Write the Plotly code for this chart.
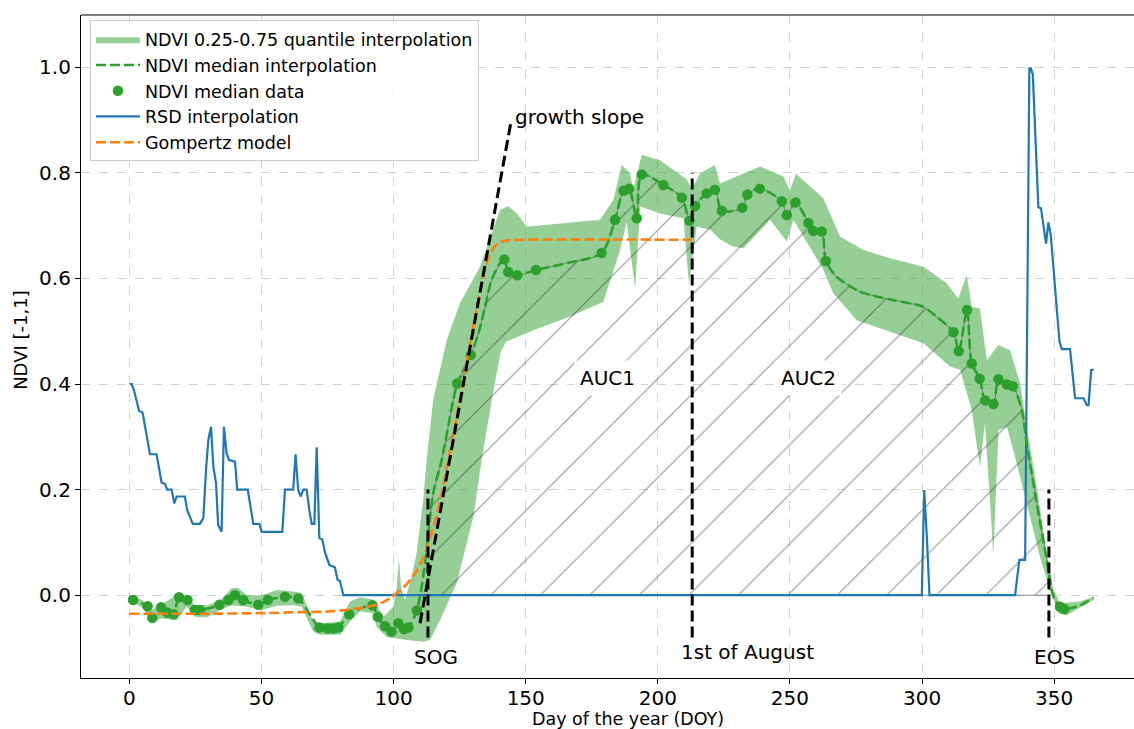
import numpy as np
import plotly.graph_objects as go

# ---------------- data ----------------
# NDVI median data (dots)
med_day = [1.4, 6.9, 8.7, 12.0, 14.4, 16.7, 18.8, 22.0, 24.8, 26.7, 34.1, 37.5, 40.0, 43.1, 48.8,
           52.4, 58.9, 63.9, 71.9, 75.0, 77.2, 79.1, 83.2, 92.0, 94.0, 96.8, 99.2, 101.8, 103.9,
           105.6, 108.8, 124.1, 129.2, 141.9, 143.4, 146.8, 153.9, 178.7, 183.8, 187.0, 189.1,
           192.0, 193.9, 202.1, 209.1, 212.0, 214.1, 218.5, 221.6, 224.2, 232.0, 233.9, 238.6,
           246.9, 248.8, 252.1, 257.0, 258.8, 262.0, 263.6, 311.9, 313.9, 317.0, 318.8, 321.8,
           323.9, 327.0, 328.9, 332.1, 334.3, 352.2, 353.8]
med_val = [-0.009, -0.021, -0.043, -0.023, -0.033, -0.036, -0.004, -0.009, -0.028, -0.028, -0.018,
           -0.009, 0.0, -0.009, -0.018, -0.009, -0.003, -0.006, -0.061, -0.063, -0.063, -0.061,
           -0.036, -0.019, -0.041, -0.059, -0.069, -0.053, -0.064, -0.061, -0.029, 0.401, 0.455,
           0.636, 0.612, 0.606, 0.616, 0.648, 0.711, 0.766, 0.770, 0.714, 0.797, 0.777, 0.753,
           0.709, 0.737, 0.761, 0.768, 0.728, 0.734, 0.759, 0.770, 0.746, 0.720, 0.744, 0.705,
           0.690, 0.689, 0.633, 0.498, 0.462, 0.540, 0.439, 0.410, 0.369, 0.362, 0.409, 0.399,
           0.396, -0.022, -0.026]

# NDVI median interpolation curve
interp_day = [0.0, 1.4, 6.9, 8.7, 12.0, 14.4, 16.7, 18.8, 22.0, 24.8, 26.7, 30.5, 34.1, 37.5, 40.0,
              43.1, 48.8, 52.4, 58.9, 63.9, 67.5, 71.9, 75.0, 77.2, 79.1, 83.2, 88.0, 92.0, 94.0,
              96.8, 99.2, 101.8, 103.9, 105.6, 108.8, 111.9, 115.0, 118.2, 122.6, 124.1, 129.2,
              132.1, 134.6, 137.1, 140.3, 141.9, 143.4, 146.8, 153.9, 165.5, 178.7, 183.8, 187.0,
              189.1, 192.0, 193.9, 202.1, 209.1, 212.0, 214.1, 218.5, 221.6, 224.2, 232.0, 233.9,
              238.6, 246.9, 248.8, 252.1, 257.0, 258.8, 262.0, 263.6, 267.7, 276.5, 287.9, 300.5,
              305.6, 311.9, 313.9, 317.0, 318.8, 321.8, 323.9, 327.0, 328.9, 332.1, 334.3, 337.7,
              339.6, 343.4, 347.2, 349.7, 352.2, 353.8, 359.8, 364.8]
interp_val = [-0.002, -0.009, -0.021, -0.043, -0.023, -0.033, -0.036, -0.004, -0.009, -0.028, -0.028,
              -0.024, -0.018, -0.009, 0.0, -0.009, -0.018, -0.009, -0.003, -0.006, -0.030, -0.061,
              -0.063, -0.063, -0.061, -0.036, -0.024, -0.019, -0.041, -0.059, -0.069, -0.053,
              -0.064, -0.061, -0.029, 0.060, 0.193, 0.256, 0.370, 0.401, 0.455, 0.496, 0.546,
              0.597, 0.629, 0.636, 0.612, 0.606, 0.616, 0.629, 0.648, 0.711, 0.766, 0.770, 0.714,
              0.797, 0.777, 0.753, 0.709, 0.737, 0.761, 0.768, 0.728, 0.734, 0.759, 0.770, 0.746,
              0.720, 0.744, 0.705, 0.690, 0.689, 0.633, 0.603, 0.575, 0.560, 0.546, 0.527, 0.498,
              0.462, 0.540, 0.439, 0.410, 0.369, 0.362, 0.409, 0.399, 0.396, 0.351, 0.288, 0.174,
              0.067, -0.003, -0.022, -0.026, -0.019, -0.005]

# NDVI 0.25 / 0.75 quantile interpolation
q75_day = [0.0, 5.3, 8.4, 11.6, 17.9, 21.7, 24.8, 29.3, 34.3, 38.7, 41.2, 44.4, 50.1, 55.8, 62.0,
           65.2, 69.6, 72.1, 79.7, 83.5, 87.3, 92.3, 96.1, 99.9, 101.2, 102.0, 102.8, 104.3, 106.8,
           108.7, 111.2, 112.5, 115.0, 120.1, 125.1, 132.7, 140.3, 143.4, 146.6, 150.4, 178.1,
           183.2, 186.3, 189.5, 190.7, 193.9, 200.8, 210.9, 212.8, 216.0, 221.6, 223.5, 229.9,
           238.7, 247.5, 250.0, 252.3, 262.6, 269.0, 277.8, 287.9, 300.5, 309.3, 313.7, 316.9,
           318.8, 321.9, 324.5, 328.9, 333.3, 337.1, 339.6, 343.4, 347.2, 349.7, 352.2, 359.8,
           364.8, 365.0]
q75_val = [0.0, -0.010, -0.028, -0.019, 0.0, -0.003, -0.019, -0.019, -0.010, 0.013, 0.014, 0.0, 0.0,
           0.010, 0.007, 0.004, -0.050, -0.053, -0.050, -0.012, -0.004, -0.008, -0.041, -0.022,
           0.016, 0.070, 0.016, -0.009, 0.035, 0.079, 0.180, 0.256, 0.370, 0.483, 0.553, 0.622,
           0.730, 0.737, 0.723, 0.698, 0.711, 0.749, 0.815, 0.799, 0.768, 0.834, 0.824, 0.788,
           0.769, 0.799, 0.815, 0.780, 0.793, 0.812, 0.793, 0.767, 0.798, 0.752, 0.679, 0.654,
           0.638, 0.622, 0.591, 0.562, 0.606, 0.546, 0.543, 0.445, 0.474, 0.464, 0.401, 0.319,
           0.205, 0.079, 0.010, -0.015, -0.012, -0.002, -0.003]
q25_day = [0.0, 5.3, 8.4, 11.6, 17.9, 21.7, 24.8, 29.3, 34.3, 38.7, 44.4, 50.1, 55.8, 62.0, 65.2,
           69.6, 72.1, 79.7, 83.5, 87.3, 92.3, 93.6, 97.4, 105.0, 111.2, 113.8, 117.6, 123.9, 130.2,
           133.3, 137.5, 140.5, 142.5, 152.9, 168.0, 179.4, 185.7, 188.2, 191.4, 193.3, 200.8,
           209.7, 211.8, 214.7, 219.8, 223.5, 228.6, 232.4, 242.5, 248.8, 251.3, 262.6, 266.4,
           275.3, 287.9, 300.5, 310.6, 314.4, 318.8, 321.9, 323.8, 327.0, 328.9, 332.1, 335.2,
           339.6, 344.6, 348.4, 351.6, 354.8, 364.8, 365.0]
q25_val = [-0.009, -0.025, -0.053, -0.044, -0.047, -0.022, -0.041, -0.042, -0.028, -0.019, -0.022,
           -0.028, -0.020, -0.019, -0.022, -0.069, -0.075, -0.075, -0.050, -0.031, -0.034, -0.060,
           -0.079, -0.085, -0.088, -0.085, -0.047, 0.023, 0.149, 0.256, 0.380, 0.460, 0.480, 0.502,
           0.530, 0.556, 0.654, 0.707, 0.581, 0.736, 0.723, 0.714, 0.589, 0.698, 0.692, 0.674,
           0.660, 0.657, 0.711, 0.670, 0.711, 0.617, 0.572, 0.521, 0.499, 0.477, 0.433, 0.427,
           0.351, 0.243, 0.326, 0.076, 0.313, 0.319, 0.262, 0.174, 0.073, 0.010, -0.034, -0.038,
           -0.009, -0.003]

# RSD interpolation
rsd_day = [0.0, 0.9, 1.7, 3.0, 3.7, 5.0, 7.8, 10.3, 12.2, 13.5, 14.3, 16.0, 17.0, 17.9, 21.0, 21.9,
           24.0, 26.7, 28.0, 29.0, 29.9, 30.9, 31.8, 32.8, 33.6, 34.9, 35.8, 36.8, 37.7, 40.0, 40.8,
           44.8, 45.9, 46.9, 49.2, 50.1, 57.9, 58.9, 62.0, 62.9, 63.9, 64.8, 65.8, 67.1, 68.1, 69.0,
           70.0, 70.9, 71.9, 73.0, 74.0, 75.7, 77.8, 78.8, 79.7, 81.0, 299.9, 300.8, 301.8, 302.8,
           335.2, 336.8, 339.0, 340.6, 341.1, 341.9, 344.0, 345.0, 346.9, 347.8, 348.7, 352.0,
           352.9, 356.0, 357.9, 361.1, 362.3, 363.0, 364.0, 365.0]
rsd_val = [0.400, 0.400, 0.389, 0.360, 0.349, 0.346, 0.267, 0.267, 0.213, 0.211, 0.200, 0.200, 0.174,
           0.187, 0.187, 0.161, 0.135, 0.135, 0.146, 0.237, 0.294, 0.319, 0.243, 0.212, 0.133,
           0.120, 0.319, 0.269, 0.256, 0.253, 0.200, 0.200, 0.161, 0.135, 0.135, 0.120, 0.120,
           0.200, 0.200, 0.267, 0.199, 0.187, 0.200, 0.200, 0.161, 0.135, 0.135, 0.280, 0.108,
           0.106, 0.082, 0.057, 0.053, 0.029, 0.027, 0.0, 0.0, 0.199, 0.111, 0.0, 0.0, 0.067,
           0.067, 0.998, 0.998, 0.987, 0.735, 0.733, 0.666, 0.706, 0.682, 0.480, 0.466, 0.466,
           0.373, 0.373, 0.360, 0.360, 0.427, 0.427]

# Gompertz model
gomp_day = [0, 30, 50, 65, 75, 82, 88, 92, 96, 99, 101.5, 104, 106.5, 109, 111, 113, 115, 117, 119.5,
            122, 125, 128, 131, 134, 136, 138, 140, 143, 213]
gomp_val = [-0.035, -0.035, -0.034, -0.032, -0.031, -0.028, -0.024, -0.020, -0.013, -0.005, 0.005,
            0.016, 0.030, 0.048, 0.068, 0.095, 0.128, 0.165, 0.225, 0.290, 0.370, 0.450, 0.530,
            0.606, 0.640, 0.659, 0.668, 0.672, 0.673]

# phenology markers
SOG = 113.0
EOS = 348.0
AUG1 = 213.0
slope_day = [110.0, 144.4]
slope_val = [-0.053, 0.896]

# ---------------- figure ----------------
FONT = "DejaVu Sans"
GREEN = "#2ca02c"
fig = go.Figure()

# quantile band
fig.add_trace(go.Scatter(
    x=q75_day + q25_day[::-1], y=q75_val + q25_val[::-1],
    fill="toself", fillcolor="rgba(44,160,44,0.5)", line=dict(width=0),
    mode="lines", name="NDVI 0.25-0.75 quantile interpolation", legendrank=1,
    hoverinfo="skip"))

# hatched AUC region between SOG and EOS
idays = np.array(interp_day)
ivals = np.array(interp_val)
mask = (idays > SOG) & (idays < EOS)
hx = [SOG] + list(idays[mask]) + [EOS]
hy = [float(np.interp(SOG, idays, ivals))] + list(ivals[mask]) + [float(np.interp(EOS, idays, ivals))]
fig.add_trace(go.Scatter(
    x=hx, y=hy, fill="tozeroy", fillcolor="rgba(0,0,0,0)",
    fillpattern=dict(shape="/", fgcolor="rgba(40,40,40,0.9)", bgcolor="rgba(0,0,0,0)",
                     size=35, solidity=0.035, fillmode="overlay"),
    line=dict(color="rgba(110,110,110,0.8)", width=1, shape="spline", smoothing=0.8),
    mode="lines", showlegend=False, hoverinfo="skip"))
fig.add_trace(go.Scatter(x=[SOG, EOS], y=[0, 0], mode="lines",
                         line=dict(color="rgba(110,110,110,0.8)", width=1), showlegend=False))

# RSD
fig.add_trace(go.Scatter(x=rsd_day, y=rsd_val, mode="lines",
                         line=dict(color="#1f77b4", width=2.2),
                         name="RSD interpolation", legendrank=4))

# median interpolation
fig.add_trace(go.Scatter(x=interp_day, y=interp_val, mode="lines",
                         line=dict(color=GREEN, width=2.6, dash="10px,4px", shape="spline", smoothing=0.8),
                         name="NDVI median interpolation", legendrank=2))
# median dots
fig.add_trace(go.Scatter(x=med_day, y=med_val, mode="markers",
                         marker=dict(color=GREEN, size=10.5),
                         name="NDVI median data", legendrank=3))

# Gompertz
fig.add_trace(go.Scatter(x=gomp_day, y=gomp_val, mode="lines",
                         line=dict(color="#ff7f0e", width=2.6, dash="10px,4px", shape="spline", smoothing=0.6),
                         name="Gompertz model", legendrank=5))

# black dashed lines
blk = dict(color="black", width=3, dash="11px,5px")
for xs, ys in [([SOG, SOG], [-0.08, 0.2]), ([EOS, EOS], [-0.08, 0.2]),
               ([AUG1, AUG1], [-0.08, 0.8]), (slope_day, slope_val)]:
    fig.add_trace(go.Scatter(x=xs, y=ys, mode="lines", line=blk, showlegend=False, hoverinfo="skip"))

ann_font = dict(family=FONT, size=20, color="black")
annotations = [
    dict(x=145.1, y=0.906, text="growth slope", xanchor="left", yanchor="middle", showarrow=False, font=ann_font),
    dict(x=115.9, y=-0.117, text="SOG", xanchor="center", yanchor="middle", showarrow=False, font=ann_font),
    dict(x=234.0, y=-0.108, text="1st of August", xanchor="center", yanchor="middle", showarrow=False, font=ann_font),
    dict(x=350.2, y=-0.117, text="EOS", xanchor="center", yanchor="middle", showarrow=False, font=ann_font),
    dict(x=180.8, y=0.411, text="AUC1", xanchor="center", yanchor="middle", showarrow=False, font=ann_font,
         bgcolor="white", borderpad=5),
    dict(x=256.9, y=0.411, text="AUC2", xanchor="center", yanchor="middle", showarrow=False, font=ann_font,
         bgcolor="white", borderpad=5),
    dict(xref="paper", yref="paper", x=0.5195, y=-0.0785, text="Day of the year (DOY)",
         xanchor="center", yanchor="bottom", showarrow=False, borderpad=0,
         font=dict(family=FONT, size=17.5, color="black")),
    dict(xref="paper", yref="paper", x=-0.057, y=0.51, text="NDVI [-1,1]", textangle=-90,
         xanchor="center", yanchor="middle", showarrow=False, font=dict(family=FONT, size=18, color="black")),
]

axis_common = dict(showline=True, linecolor="black", linewidth=1.2, ticks="outside", ticklen=5,
                   tickwidth=1.2, tickcolor="black", showgrid=True, gridcolor="#d3d3d3",
                   griddash="dash", gridwidth=1, zeroline=False,
                   tickfont=dict(family=FONT, size=20, color="black"))

fig.update_layout(
    width=1134, height=729,
    margin=dict(l=81, r=0, t=15, b=51),
    plot_bgcolor="white", paper_bgcolor="white",
    font=dict(family=FONT, color="black"),
    xaxis=dict(range=[-18.3, 380.2], tickvals=[0, 50, 100, 150, 200, 250, 300, 350],
               ticklabelstandoff=-3, **axis_common),
    yaxis=dict(range=[-0.1568, 1.0989], tickvals=[0.0, 0.2, 0.4, 0.6, 0.8, 1.0],
               ticktext=["0.0", "0.2", "0.4", "0.6", "0.8", "1.0"], **axis_common),
    legend=dict(x=0.0085, y=0.992, xanchor="left", yanchor="top", itemwidth=44,
                bgcolor="rgba(255,255,255,0.85)", bordercolor="#cccccc", borderwidth=1,
                font=dict(family=FONT, size=17.5, color="black"), traceorder="normal"),
    annotations=annotations,
    shapes=[dict(type="line", xref="paper", yref="paper", x0=0, x1=1, y0=1, y1=1,
                 line=dict(color="black", width=1.2))],
    showlegend=True,
)

fig.write_html("out.html", config={"displayModeBar": False},
               post_script="document.body.style.margin='0';document.body.style.padding='0';")
